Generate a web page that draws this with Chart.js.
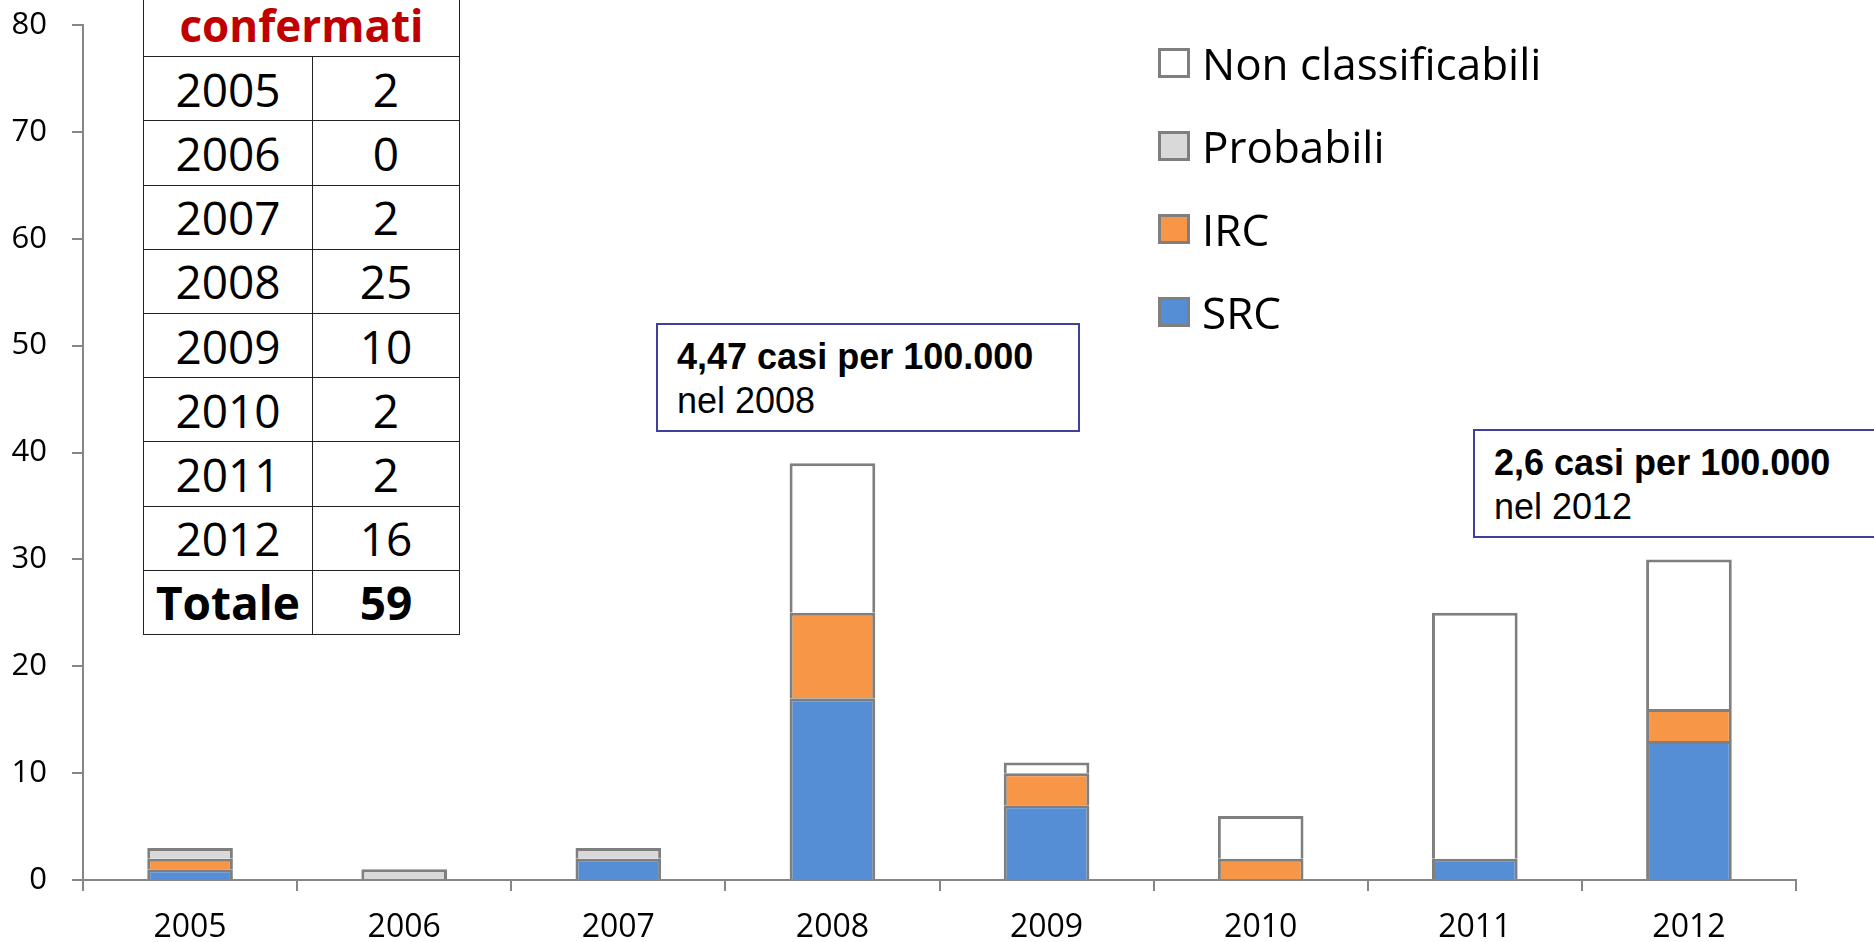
<!DOCTYPE html>
<html>
<head>
<meta charset="utf-8">
<script src="https://cdn.jsdelivr.net/npm/chart.js@4.4.1/dist/chart.umd.min.js"></script>
<style>
    html, body { margin: 0; padding: 0; background: #fff; overflow: hidden; }
    #wrap { position: relative; width: 1874px; height: 942px; }
    #chart { position: absolute; left: 0; top: 0; }
    #tabella {
        position: absolute; left: 143px; top: -8px;
        border-collapse: collapse; background: #fff;
        font-family: 'Open Sans', sans-serif; color: #000;
    }
    #tabella td {
        border: 1.5px solid #222; height: 63.2px; padding: 0;
        text-align: center; vertical-align: middle;
        font-size: 46px; line-height: 1;
    }
    #tabella td.anno { width: 168px; }
    #tabella td.val { width: 146px; }
    #tabella td.head { color: #c00000; font-weight: bold; font-size: 44px; }
    #tabella tr.tot td { font-weight: bold; }
    #legenda {
        position: absolute; left: 1158px; top: 21px;
        font-family: 'Open Sans', sans-serif; font-size: 44px; color: #000;
    }
    #legenda .item { display: flex; align-items: center; height: 83px; }
    #legenda .box { width: 26px; height: 24px; border: 3px solid #7f7f7f; margin-right: 12px; }
    .nota {
        position: absolute; border: 2px solid #3f3f9f; background: #fff;
        font-family: 'Liberation Sans', Arial, sans-serif; font-size: 36px;
        line-height: 44px; padding: 10px 0 0 19px; box-sizing: border-box; color: #000;
    }
    .nota b { display: block; }
</style>
</head>
<body>
<div id="wrap">
    <canvas id="chart" width="1874" height="942"></canvas>
    <table id="tabella"></table>
    <div id="legenda"></div>
    <div class="nota" style="left:656px; top:323px; width:424px; height:109px;"><b>4,47 casi per 100.000</b>nel 2008</div>
    <div class="nota" style="left:1473px; top:429px; width:430px; height:109px;"><b>2,6 casi per 100.000</b>nel 2012</div>
</div>
<script>
// dati
const anni = ['2005', '2006', '2007', '2008', '2009', '2010', '2011', '2012'];
const src       = [1, 0, 2, 17, 7, 0, 2, 13];
const irc       = [1, 0, 0, 8, 3, 2, 0, 3];
const probabili = [1, 1, 1, 0, 0, 0, 0, 0];
const nonClass  = [0, 0, 0, 14, 1, 4, 23, 14];

// tabella dei casi confermati
const confermati = [2, 0, 2, 25, 10, 2, 2, 16];
const totaleConfermati = 59;

const yTicks = [0, 10, 20, 30, 40, 50, 60, 70, 80];

const grigio = '#7f7f7f';

document.addEventListener('DOMContentLoaded', () => {
    const tab = document.getElementById('tabella');
    let html = '<tr><td class="head" colspan="2">confermati</td></tr>';
    anni.forEach((a, i) => {
        html += `<tr><td class="anno">${a}</td><td class="val">${confermati[i]}</td></tr>`;
    });
    html += `<tr class="tot"><td class="anno">Totale</td><td class="val">${totaleConfermati}</td></tr>`;
    tab.innerHTML = html;

    const datasets = [
        { label: 'SRC', data: src, backgroundColor: '#558ed5' },
        { label: 'IRC', data: irc, backgroundColor: '#f79646' },
        { label: 'Probabili', data: probabili, backgroundColor: '#d9d9d9' },
        { label: 'Non classificabili', data: nonClass, backgroundColor: '#ffffff' }
    ].map(d => Object.assign(d, {
        borderColor: grigio,
        borderWidth: 3,
        borderSkipped: 'start',
        barPercentage: 0.4,
        categoryPercentage: 1
    }));

    // legenda in ordine inverso, come nell'originale
    const leg = document.getElementById('legenda');
    leg.innerHTML = datasets.slice().reverse().map(d =>
        `<div class="item"><span class="box" style="background:${d.backgroundColor}"></span>${d.label}</div>`
    ).join('');

    const ctx = document.getElementById('chart').getContext('2d');
    new Chart(ctx, {
        type: 'bar',
        data: { labels: anni, datasets },
        options: {
            responsive: false,
            animation: false,
            devicePixelRatio: 1,
            layout: { padding: { top: 25, right: 78, left: 0, bottom: 0 } },
            plugins: {
                legend: { display: false },
                tooltip: { enabled: false }
            },
            scales: {
                x: {
                    stacked: true,
                    afterFit: s => { s.height = 62; },
                    grid: {
                        offset: true, drawOnChartArea: false, drawTicks: true,
                        tickLength: 11, color: '#868686', lineWidth: 2
                    },
                    border: { display: true, color: '#868686', width: 2 },
                    ticks: {
                        padding: 18, color: '#000',
                        font: { family: 'Open Sans', size: 32 }
                    }
                },
                y: {
                    stacked: true,
                    min: 0, max: 80,
                    afterFit: s => {
                        s.width = 83;
                        s.paddingTop = 0;
                        s.paddingBottom = 0;
                    },
                    afterBuildTicks: s => { s.ticks = yTicks.map(v => ({ value: v })); },
                    grid: {
                        drawOnChartArea: false, drawTicks: true,
                        tickLength: 11, color: '#868686', lineWidth: 2
                    },
                    border: { display: true, color: '#868686', width: 2 },
                    ticks: {
                        padding: 25, color: '#000',
                        font: { family: 'Open Sans', size: 31 }
                    }
                }
            }
        }
    });
});
</script>
</body>
</html>
